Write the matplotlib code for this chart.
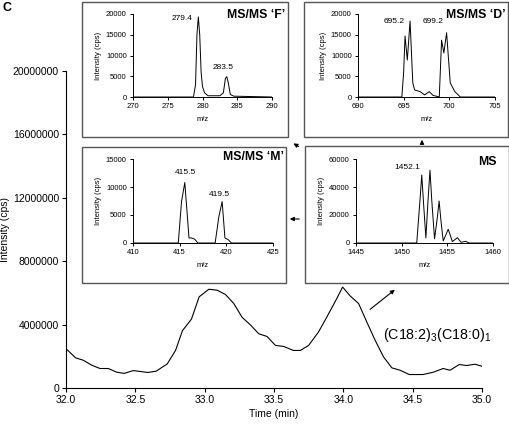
import matplotlib
matplotlib.use("Agg")
import matplotlib.pyplot as plt
from matplotlib.patches import Rectangle, FancyArrowPatch

plt.rcParams['font.family'] = ['Liberation Sans', 'DejaVu Sans']
plt.rcParams['mathtext.default'] = 'regular'

W, H = 510, 424

# chromatogram (main panel)
time_min = [32.0, 32.07, 32.125, 32.185, 32.245, 32.305, 32.365, 32.42, 32.485, 32.53,
            32.59, 32.65, 32.73, 32.79, 32.84, 32.905, 32.96, 33.03, 33.09, 33.15,
            33.21, 33.27, 33.33, 33.39, 33.45, 33.51, 33.57, 33.64, 33.69, 33.75,
            33.82, 33.88, 33.95, 33.995, 34.05, 34.11, 34.17, 34.23, 34.29, 34.35,
            34.41, 34.475, 34.575, 34.65, 34.72, 34.77, 34.835, 34.89, 34.95, 35.0]
intensity = [2.48e6, 1.9e6, 1.75e6, 1.44e6, 1.23e6, 1.23e6, 1.0e6, 0.92e6, 1.1e6, 1.05e6,
             0.98e6, 1.06e6, 1.52e6, 2.37e6, 3.62e6, 4.35e6, 5.75e6, 6.23e6, 6.17e6, 5.9e6,
             5.33e6, 4.46e6, 3.98e6, 3.42e6, 3.25e6, 2.69e6, 2.62e6, 2.37e6, 2.37e6, 2.69e6,
             3.52e6, 4.46e6, 5.6e6, 6.37e6, 5.8e6, 5.33e6, 4.15e6, 3.0e6, 1.96e6, 1.27e6,
             1.12e6, 0.85e6, 0.85e6, 1.0e6, 1.23e6, 1.12e6, 1.48e6, 1.42e6, 1.5e6, 1.37e6]

# MS/MS 'F'
f_mz = [270, 278.7, 279.0, 279.2, 279.4, 279.6, 279.8, 280.0, 280.3, 280.8,
        282.5, 283.0, 283.3, 283.5, 283.7, 284.0, 284.5, 290]
f_int = [0, 0, 3000, 15000, 19300, 15000, 6000, 2500, 1000, 300,
         300, 1000, 4500, 4900, 3500, 600, 200, 0]

# MS/MS 'D'
d_mz = [690, 694.8, 695.0, 695.15, 695.4, 695.7, 696.0, 696.2, 696.8, 697.3, 697.8,
        698.2, 698.9, 699.15, 699.4, 699.7, 700.1, 700.6, 701.2, 705]
d_int = [0, 0, 6000, 14700, 8900, 18300, 3400, 1700, 1300, 500, 1300,
         400, 0, 13700, 10600, 15500, 3400, 1300, 0, 0]

# MS/MS 'M'
m_mz = [410, 414.85, 415.2, 415.55, 416.0, 416.25, 416.6, 416.95,
        418.8, 419.2, 419.55, 419.85, 420.2, 420.55, 425]
m_int = [0, 0, 7400, 10800, 900, 900, 700, 0,
         0, 4700, 7400, 900, 600, 0, 0]

# MS
ms_mz = [1445, 1451.65, 1452.0, 1452.2, 1452.4, 1452.65, 1452.9, 1453.1, 1453.3, 1453.6,
         1453.9, 1454.1, 1454.3, 1454.55, 1455.1, 1455.55, 1456.1, 1456.5, 1457.0, 1457.4, 1460]
ms_int = [0, 0, 30000, 48600, 28000, 3600, 32000, 52000, 30000, 3000,
          18000, 30000, 16000, 1500, 9800, 1000, 3800, 500, 1200, 0, 0]

peak_labels = {
    'F': [(277.1, 19000, '279.4'), (283.0, 7000, '283.5')],
    'D': [(694.0, 18300, '695.2'), (698.2, 18300, '699.2')],
    'M': [(415.6, 12500, '415.5'), (419.3, 8750, '419.5')],
    'MS': [(1450.6, 53600, '1452.1')],
}


def rect(x0, y0, x1, y1):
    # pixel box (top-left origin) -> figure fraction [l, b, w, h]
    return [x0 / W, 1 - y1 / H, (x1 - x0) / W, (y1 - y0) / H]


def fp(x, y):
    return (x / W, 1 - y / H)


fig = plt.figure(figsize=(W / 100, H / 100), dpi=100)

# main chromatogram
ax = fig.add_axes(rect(66, 71, 482, 388))
ax.plot(time_min, intensity, color='black', lw=0.8)
ax.set_xlim(32.0, 35.0)
ax.set_ylim(0, 20000000)
ax.set_xticks([32.0, 32.5, 33.0, 33.5, 34.0, 34.5, 35.0])
ax.set_xticklabels(['%.1f' % v for v in ax.get_xticks()])
ax.set_yticks([0, 4000000, 8000000, 12000000, 16000000, 20000000])
ax.set_yticklabels(['0', '4000000', '8000000', '12000000', '16000000', '20000000'])
ax.spines['top'].set_visible(False)
ax.spines['right'].set_visible(False)
for s in ['left', 'bottom']:
    ax.spines[s].set_linewidth(0.8)
ax.tick_params(direction='out', length=3, width=0.8, labelsize=7.5, pad=2)
ax.set_xlabel('Time (min)', fontsize=7.5, labelpad=3)
ax.set_ylabel('Intensity (cps)', fontsize=7.5)
ax.yaxis.set_label_coords(-0.135, 0.5)
fig.text(*fp(383, 335), r'(C18:2)$_3$(C18:0)$_1$', fontsize=10.3, ha='left', va='center')

fig.text(0.004, 0.995, 'C', fontsize=9, fontweight='bold', ha='left', va='top')

# inset frames
boxes = [(82, 2, 288, 137), (304, 2, 508, 137), (82, 147, 286, 283), (305, 146, 509, 283)]
for b in boxes:
    l, bt, w, h = rect(*b)
    fig.add_artist(Rectangle((l, bt), w, h, transform=fig.transFigure,
                             facecolor='white', edgecolor='#555555', lw=1.0, zorder=2))


def spectrum(pos, mz, inten, xlim, xticks, ylim, yticks, title, tpos, labels):
    a = fig.add_axes(rect(*pos), zorder=3)
    a.patch.set_alpha(0)
    a.plot(mz, inten, color='black', lw=0.7)
    a.set_xlim(*xlim)
    a.set_ylim(*ylim)
    a.set_xticks(xticks)
    a.set_yticks(yticks)
    a.spines['top'].set_visible(False)
    a.spines['right'].set_visible(False)
    for s in ['left', 'bottom']:
        a.spines[s].set_linewidth(0.7)
    a.tick_params(direction='out', length=2.5, width=0.7, labelsize=5.5, pad=2)
    a.set_xlabel('m/z', fontsize=5.5, labelpad=4)
    a.set_ylabel('Intensity (cps)', fontsize=5.5, labelpad=3)
    fig.text(*fp(*tpos), title, fontsize=8.8, fontweight='bold', ha='right', va='center',
             zorder=4)
    for lx, ly, txt in labels:
        a.text(lx, ly, txt, fontsize=6, ha='center', va='center')
    return a


spectrum((133, 14, 272, 97), f_mz, f_int, (270, 290), [270, 275, 280, 285, 290],
         (0, 20000), [0, 5000, 10000, 15000, 20000], "MS/MS \u2018F\u2019", (285, 15),
         peak_labels['F'])
spectrum((358, 14, 495, 97), d_mz, d_int, (690, 705), [690, 695, 700, 705],
         (0, 20000), [0, 5000, 10000, 15000, 20000], "MS/MS \u2018D\u2019", (506, 15),
         peak_labels['D'])
spectrum((133, 159, 273, 243), m_mz, m_int, (410, 425), [410, 415, 420, 425],
         (0, 15000), [0, 5000, 10000, 15000], "MS/MS \u2018M\u2019", (284, 157),
         peak_labels['M'])
spectrum((356, 159, 493, 243), ms_mz, ms_int, (1445, 1460), [1445, 1450, 1455, 1460],
         (0, 60000), [0, 20000, 40000, 60000], "MS", (497, 162),
         peak_labels['MS'])

# arrows
arrows = [((368, 311), (397, 288)), ((422, 146), (422, 137)),
          ((302, 219), (287, 219)), ((301, 148), (291, 142))]
for a0, a1 in arrows:
    fig.add_artist(FancyArrowPatch(fp(*a0), fp(*a1), transform=fig.transFigure,
                                   arrowstyle='-|>', mutation_scale=6, lw=0.8,
                                   color='black', zorder=5))

fig.savefig('out.png', dpi=100)
